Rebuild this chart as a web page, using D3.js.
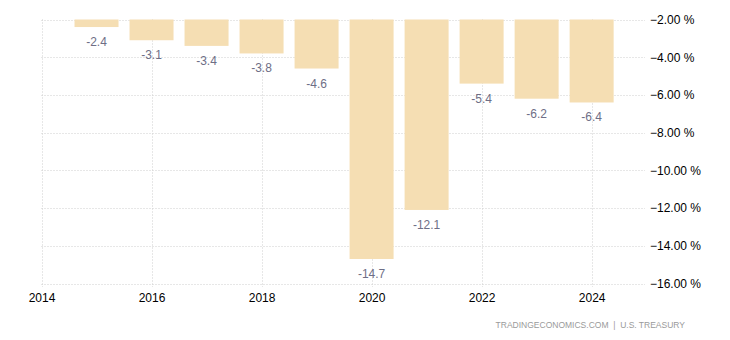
<!DOCTYPE html>
<html><head><meta charset="utf-8">
<script src="https://cdn.jsdelivr.net/npm/d3@7"></script>
<style>body{margin:0;background:#fff;}svg{display:block;font-family:"Liberation Sans",Arial,sans-serif;}</style>
</head><body><svg id="c" width="730" height="340"></svg>
<script>
const years = [2015,2016,2017,2018,2019,2020,2021,2022,2023,2024];
const values = [-2.4,-3.1,-3.4,-3.8,-4.6,-14.7,-12.1,-5.4,-6.2,-6.4];
const xTicks = [2014,2016,2018,2020,2022,2024];
const yTicks = [-2,-4,-6,-8,-10,-12,-14,-16];
const source = "TRADINGECONOMICS.COM  |  U.S. TREASURY";

const svg = d3.select("#c");
const x = d3.scaleLinear().domain([2014,2024.97]).range([41.5,645]);
const y = d3.scaleLinear().domain([-2,-16]).range([19.5,283.5]);
const bw = 44;

const grid = svg.append("g");
grid.selectAll("line.h").data(yTicks).join("line")
  .attr("x1",41.5).attr("x2",645).attr("y1",d=>Math.round(y(d))+0.5).attr("y2",d=>Math.round(y(d))+0.5)
  .attr("stroke","#cfcfcf").attr("stroke-dasharray","1,2");
grid.selectAll("line.v").data(xTicks).join("line")
  .attr("y1",19.5).attr("y2",287).attr("x1",d=>Math.round(x(d))+0.5).attr("x2",d=>Math.round(x(d))+0.5)
  .attr("stroke","#cfcfcf").attr("stroke-dasharray","1,2");

svg.append("g").selectAll("rect").data(values).join("rect")
  .attr("x",(d,i)=>x(years[i])-bw/2).attr("width",bw)
  .attr("y",y(-2)).attr("height",d=>y(d)-y(-2))
  .attr("fill","#f5deb3");

svg.append("g").selectAll("text").data(values).join("text")
  .attr("x",(d,i)=>x(years[i])).attr("y",d=>y(d)+19)
  .attr("text-anchor","middle").attr("font-size","12px").attr("fill","#6e6e86")
  .text(d=>d.toFixed(1));

const xa = svg.append("g").attr("transform","translate(0,283.5)")
  .call(d3.axisBottom(x).tickValues(xTicks).tickFormat(d3.format("d")).tickSize(0).tickPadding(10));
xa.select(".domain").remove();
xa.selectAll("text").attr("font-size","12px").attr("fill","#000").attr("font-family","Liberation Sans, Arial, sans-serif");

const ya = svg.append("g").attr("transform","translate(645,0)")
  .call(d3.axisRight(y).tickValues(yTicks).tickFormat(d=>d3.format(".2f")(d)+" %").tickSize(0).tickPadding(5));
ya.select(".domain").remove();
ya.selectAll("text").attr("font-size","12px").attr("fill","#000").attr("font-family","Liberation Sans, Arial, sans-serif");

svg.append("text").attr("x",685).attr("y",328).attr("text-anchor","end")
  .attr("font-size","8.5px").attr("fill","#9a9a9a").attr("xml:space","preserve").text(source);
</script></body></html>
